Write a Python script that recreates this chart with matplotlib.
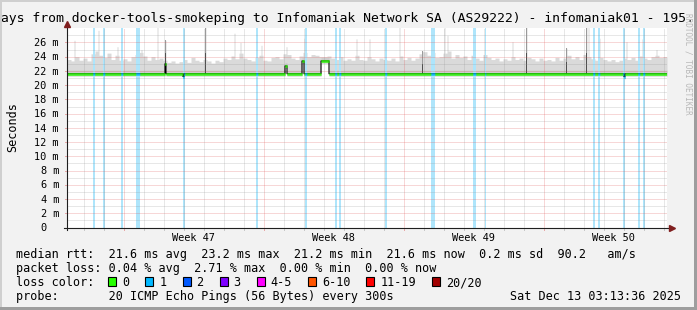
import numpy as np
import matplotlib
matplotlib.use("Agg")
import matplotlib.pyplot as plt
from matplotlib.patches import Rectangle
from matplotlib.transforms import offset_copy, blended_transform_factory

# ---------------- data ----------------
window_start = "2025-11-13T03:13:36"
window_end = "2025-12-13T03:13:36"
title_text = ("Last 30 Days from docker-tools-smokeping to Infomaniak Network SA "
              "(AS29222) - infomaniak01 - 195.15.242.10")

y_max = 28.1
y_tick_values = [0, 2, 4, 6, 8, 10, 12, 14, 16, 18, 20, 22, 24, 26]
y_tick_labels = ["0", "2 m", "4 m", "6 m", "8 m", "10 m", "12 m", "14 m",
                 "16 m", "18 m", "20 m", "22 m", "24 m", "26 m"]

week_labels = ["Week 47", "Week 48", "Week 49", "Week 50"]
week_label_times = ["2025-11-19T12:00", "2025-11-26T12:00",
                    "2025-12-03T12:00", "2025-12-10T12:00"]
first_week_start = "2025-11-16T00:00"
first_midnight = "2025-11-14T00:00"

# median rtt (ms): flat baseline with a few excursions
median_base = 21.6
median_start = ["2025-11-18T01:25", "2025-11-18T23:00", "2025-11-24T01:25",
                "2025-11-24T21:13", "2025-11-25T20:37", "2025-12-10T23:10"]
median_hours = [1.2, 1.2, 2.4, 3.0, 9.0, 1.2]
median_values = [23.0, 21.2, 22.7, 23.4, 23.4, 21.2]

# smoke (upper envelope of the 20 pings, ms), one value per 4.8 h
smoke_bin_hours = 4.8
smoke_max = [
    23.6, 23.4, 24.0, 23.5, 23.8, 23.4, 24.4, 24.8, 24.2, 23.9,
    24.5, 23.6, 24.2, 23.5, 23.7, 23.4, 24.0, 24.3, 24.6, 24.1,
    23.5, 24.0, 23.6, 23.8, 23.5, 23.2, 23.4, 23.1, 23.3, 23.6,
    23.2, 23.9, 23.5, 23.3, 23.6, 23.4, 23.1, 23.5, 23.3, 23.8,
    23.6, 24.1, 23.7, 24.5, 23.8, 23.6, 23.4, 23.9, 24.2, 23.5,
    23.4, 23.9, 24.0, 23.7, 24.4, 24.3, 23.8, 23.6, 24.1, 24.6,
    24.0, 24.3, 24.2, 24.0, 23.9, 24.1, 23.8, 23.6, 24.0, 23.5,
    23.7, 23.5, 24.2, 23.6, 23.5, 24.0, 23.7, 23.4, 23.8, 23.6,
    23.5, 23.8, 23.4, 24.1, 23.6, 23.9, 23.5, 23.8, 24.4, 24.7,
    24.2, 24.6, 23.9, 24.0, 24.5, 24.8, 23.8, 24.3, 23.9, 24.1,
    23.6, 24.2, 23.8, 23.5, 24.3, 23.9, 23.6, 23.8, 23.4, 23.7,
    23.5, 24.0, 23.6, 23.8, 23.5, 23.9, 23.7, 23.4, 23.8, 23.5,
    23.6, 23.4, 23.9, 23.5, 23.8, 24.2, 23.7, 24.0, 23.6, 24.3,
    24.0, 23.7, 23.5, 23.9, 23.6, 23.4, 23.6, 23.3, 23.5, 23.8,
    23.6, 23.9, 23.5, 24.1, 23.8, 23.6, 24.0, 24.2, 23.9, 24.0,
]
smoke_min = 21.3
smoke_core_height = 0.5

# single-interval smoke spikes (ms) and whether they are dark (high dispersion)
spike_times = [
    "2025-11-13T12:49", "2025-11-14T17:37", "2025-11-15T16:25", "2025-11-16T21:13",
    "2025-11-17T16:25", "2025-11-18T02:01", "2025-11-20T02:01", "2025-11-21T12:49",
    "2025-11-21T20:01", "2025-11-22T21:13", "2025-11-24T03:13", "2025-11-25T00:49",
    "2025-11-26T18:49", "2025-11-27T15:13", "2025-11-28T06:49", "2025-11-29T18:49",
    "2025-11-30T22:25", "2025-12-02T00:49", "2025-12-02T04:25", "2025-12-05T10:25",
    "2025-12-06T03:13", "2025-12-08T03:13", "2025-12-09T03:13", "2025-12-09T05:37",
    "2025-12-09T18:49", "2025-12-11T03:13", "2025-12-11T22:25", "2025-12-12T15:13",
]
spike_values = [26.3, 27.7, 25.4, 25.0, 28.1, 26.3, 28.1, 27.3,
                26.0, 25.6, 25.4, 26.6, 28.1, 26.5, 26.5, 28.1,
                24.8, 28.1, 27.0, 26.1, 28.1, 25.2, 28.1, 28.1,
                26.6, 26.1, 26.5, 25.0]
spike_dark = [False, False, False, False, False, True, True, False,
              False, False, False, False, True, False, False, False,
              True, False, False, False, True, True, True, False,
              False, False, False, False]

# packet loss events (pings lost out of 20)
loss_start = ["2025-11-14T10:03", "2025-11-14T22:46", "2025-11-15T20:01",
              "2025-11-16T14:01", "2025-11-18T22:47", "2025-11-22T14:01",
              "2025-11-25T00:49", "2025-11-26T12:49", "2025-11-26T17:15",
              "2025-11-29T00:49", "2025-12-01T08:01", "2025-12-03T10:47",
              "2025-12-04T00:49", "2025-12-09T10:03", "2025-12-09T16:03",
              "2025-12-10T22:47", "2025-12-11T16:47", "2025-12-11T22:03"]
loss_hours = [2.8, 2.0, 2.8, 4.8, 2.0, 2.8, 2.0, 2.8, 2.4,
              2.0, 4.8, 2.9, 1.6, 2.8, 2.8, 2.4, 2.0, 2.8]
loss_count = [1] * 18

loss_labels = ["0", "1", "2", "3", "4-5", "6-10", "11-19", "20/20"]
loss_colors = ["#26ff00", "#00b8ff", "#0059ff", "#7e00ff",
               "#ff00ff", "#ff5500", "#ff0000", "#a10000"]

legend_rtt = "median rtt:  21.6 ms avg  23.2 ms max  21.2 ms min  21.6 ms now  0.2 ms sd  90.2   am/s"
legend_loss = "packet loss: 0.04 % avg  2.71 % max  0.00 % min  0.00 % now"
legend_color = "loss color:"
legend_probe = "probe:       20 ICMP Echo Pings (56 Bytes) every 300s"
legend_date = "Sat Dec 13 03:13:36 2025"
y_label = "Seconds"
watermark = "RRDTOOL / TOBI OETIKER"

# ---------------- helpers ----------------
W, H, DPI = 697, 310, 100
MONO = "DejaVu Sans Mono"
t0 = np.datetime64(window_start)


def to_days(s):
    return (np.datetime64(s) - t0) / np.timedelta64(1, "s") / 86400.0


def px(x):
    return x / W


def py(y):
    return 1 - y / H


def loss_color(n):
    if n <= 3:
        return loss_colors[n]
    if n <= 5:
        return loss_colors[4]
    if n <= 10:
        return loss_colors[5]
    if n <= 19:
        return loss_colors[6]
    return loss_colors[7]


span_days = to_days(window_end)
n_px = 600
step_days = span_days / n_px
edges = np.arange(n_px + 1) * step_days
mid = edges[:-1] + step_days / 2

med = np.full(n_px, median_base)
for s, h, v in zip(median_start, median_hours, median_values):
    d0 = to_days(s)
    med[(mid >= d0) & (mid < d0 + h / 24)] = v

loss = np.zeros(n_px, dtype=int)
for s, h, n in zip(loss_start, loss_hours, loss_count):
    d0 = to_days(s)
    loss[(mid >= d0) & (mid < d0 + h / 24)] = n

bin_idx = np.minimum((mid / (smoke_bin_hours / 24)).astype(int), len(smoke_max) - 1)
top = np.array(smoke_max)[bin_idx]
top = np.maximum(top, med + 0.6)
for s, v in zip(spike_times, spike_values):
    i = int(to_days(s) / step_days)
    top[i] = max(top[i], v)
bottom = np.minimum(smoke_min, med - 0.3)
bottom = np.where(med > median_base + 0.5, med - 0.3, bottom)

# ---------------- figure ----------------
fig = plt.figure(figsize=(W / DPI, H / DPI), dpi=DPI, facecolor="#f2f2f2")
ax = fig.add_axes([px(67), py(227.5), 600 / W, 200 / H], facecolor="white")
ax.set_xlim(0, span_days)
ax.set_ylim(0, y_max)

ext = lambda a: np.append(a, a[-1])
ax.fill_between(edges, ext(bottom), ext(top), step="post", color="#dadada", lw=0, zorder=1)
ax.fill_between(edges, ext(bottom), ext(med + smoke_core_height), step="post",
                color="#cdcdcd", lw=0, zorder=1.1)

for s, v, dk in zip(spike_times, spike_values, spike_dark):
    if not dk:
        continue
    i = int(to_days(s) / step_days)
    base = med[i]
    split = base + (v - base) * 0.45
    ax.bar(mid[i], split - base, bottom=base, width=step_days, color="#505050", lw=0, zorder=1.2)
    ax.bar(mid[i], v - split, bottom=split, width=step_days, color="#9a9a9a", lw=0, zorder=1.2)

for s, h in zip(loss_start, loss_hours):
    d0 = to_days(s)
    ax.axvspan(d0, d0 + h / 24, color="#aee5fb", lw=0, zorder=1.5)

# grid (drawn over the graph, rrdtool style)
minor_col = (0.56, 0.56, 0.56, 0.42)
major_col = (0.87, 0.31, 0.31, 0.45)
dots = (0, (1, 1))
for v in np.arange(1, y_max, 2):
    ax.axhline(v, color=minor_col, lw=0.72, ls=dots, zorder=2)
for v in y_tick_values[1:]:
    ax.axhline(v, color=major_col, lw=0.72, ls=dots, zorder=2)
wk0 = to_days(first_week_start)
for d in np.arange(to_days(first_midnight), span_days, 1.0):
    is_week = abs(((d - wk0) / 7) - round((d - wk0) / 7)) < 1e-6
    ax.axvline(d, color=major_col if is_week else minor_col, lw=0.72, ls=dots, zorder=2)
    ax.plot([d, d], [0, -0.0125], transform=blended_transform_factory(ax.transData, ax.transAxes),
            color=major_col if is_week else minor_col, lw=0.72, clip_on=False, zorder=2)

# median line: black steps, loss-coloured levels
ax.step(edges, ext(med), where="post", color="black", lw=0.8, zorder=3)
ax.hlines(med, edges[:-1], edges[1:], colors=[loss_color(n) for n in loss],
          lw=2.0, zorder=4)

# axes, ticks
for sp in ax.spines.values():
    sp.set_visible(False)
ax.set_xticks([])
ax.set_yticks([])
axis_col = "#1f1f1f"
arrow_col = "#801f1f"
ax.plot([0, 0], [-0.012, 1.02], transform=ax.transAxes, color=axis_col, lw=0.8, clip_on=False, zorder=5)
ax.plot([-0.005, 1.008], [0, 0], transform=ax.transAxes, color=axis_col, lw=0.8, clip_on=False, zorder=5)
ax.plot([0], [1.02], marker="^", ms=4, color=arrow_col, transform=ax.transAxes, clip_on=False, zorder=6)
ax.plot([1.008], [0], marker=">", ms=4, color=arrow_col, transform=ax.transAxes, clip_on=False, zorder=6)

ytr = ax.get_yaxis_transform()
for v, lab in zip(y_tick_values, y_tick_labels):
    ax.plot([-0.004, 0], [v, v], transform=ytr, color=major_col, lw=0.72, clip_on=False)
    xoff = -8 if lab.endswith("m") else -8 - 2 * 6.18
    ax.text(0, v, lab, transform=offset_copy(ytr, fig=fig, x=xoff, y=-3.7, units="dots"),
            ha="right", va="baseline", fontsize=7.4, family=MONO, color="black")

xtr = ax.get_xaxis_transform()
for t, lab in zip(week_label_times, week_labels):
    ax.text(to_days(t), 0, lab, transform=offset_copy(xtr, fig=fig, x=-0.8, y=-13.2, units="dots"),
            ha="center", va="baseline", fontsize=7.4, family=MONO)

# title: centred and overflowing in the original; placed so that "ays" starts at
# the left edge and "195." reaches the right border
renderer = fig.canvas.get_renderer()


def ink_w(s, fs):
    t = fig.text(0, 0, s, fontsize=fs, family=MONO)
    w = t.get_window_extent(renderer).width
    t.remove()
    return w


FS0 = 9.5
k_a = title_text.index("ays")
k_dot = title_text.index("195.") + 4
A = ink_w(title_text[:k_a + 1], FS0) - ink_w("a", FS0)
B = ink_w(title_text[:k_dot], FS0)
scale = (691.5 - 1.3) / (B - A) * 1.013
title_fs = FS0 * scale
title_x = 1.3 - scale * A
fig.text(px(title_x), py(22), title_text, ha="left", va="baseline", fontsize=title_fs, family=MONO)

fig.text(px(12.5), py(127.5), y_label, rotation=90, ha="center", va="center", fontsize=8.5, family=MONO)
fig.text(px(688), py(64), watermark, rotation=270, ha="center", va="center",
         fontsize=5.5, family=MONO, color="#b8b8b8")

LG = 8.5
CW = 7.1
fig.text(px(16), py(258.3), legend_rtt, ha="left", va="baseline", fontsize=LG, family=MONO)
fig.text(px(16), py(272.3), legend_loss, ha="left", va="baseline", fontsize=LG, family=MONO)
fig.text(px(16), py(286.3), legend_color, ha="left", va="baseline", fontsize=LG, family=MONO)
fig.text(px(16), py(300.0), legend_probe, ha="left", va="baseline", fontsize=LG, family=MONO)
fig.text(px(680.5), py(300.0), legend_date, ha="right", va="baseline", fontsize=LG, family=MONO)

xs = 108.3
for lab, col in zip(loss_labels, loss_colors):
    fig.patches.append(Rectangle((px(xs), py(286.3)), 8 / W, 9 / H, transform=fig.transFigure,
                                 facecolor=col, edgecolor="black", lw=0.8))
    fig.text(px(xs + 14), py(286.3), lab, ha="left", va="baseline", fontsize=LG, family=MONO)
    xs = xs + 14 + len(lab) * CW + 16.0

# 3D border
fig.patches.append(Rectangle((0, 1 - 2 / H), 1, 2 / H, transform=fig.transFigure,
                             facecolor="#cfcfcf", lw=0, zorder=10))
fig.patches.append(Rectangle((0, 0), 2 / W, 1, transform=fig.transFigure,
                             facecolor="#cfcfcf", lw=0, zorder=10))
fig.patches.append(Rectangle((1 - 3 / W, 0), 3 / W, 1, transform=fig.transFigure,
                             facecolor="#9e9e9e", lw=0, zorder=10))
fig.patches.append(Rectangle((0, 0), 1, 3 / H, transform=fig.transFigure,
                             facecolor="#9e9e9e", lw=0, zorder=10))

fig.savefig("out.png", dpi=DPI, facecolor=fig.get_facecolor())
